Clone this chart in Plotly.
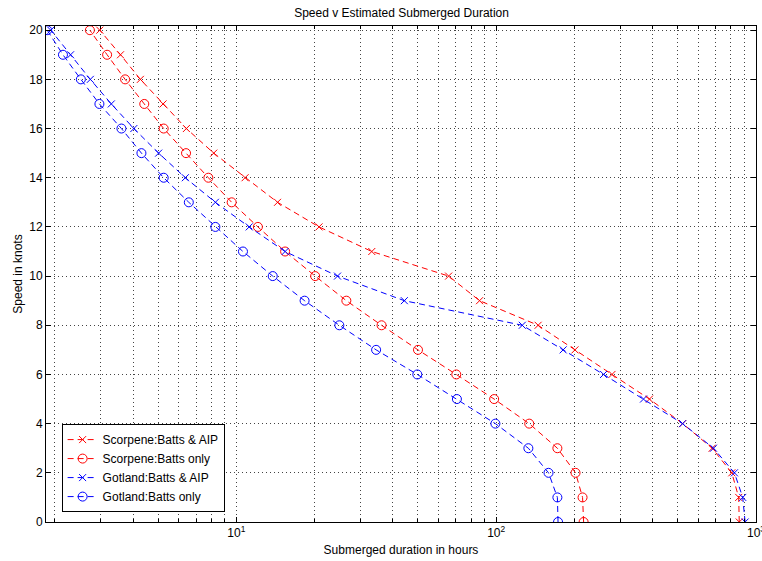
import plotly.graph_objects as go
import math

speed = list(range(0, 21))

scorpene_aip = [862, 858, 807, 678, 522, 389, 279, 201, 145, 86.3, 65.6, 33.2, 20.8,
                14.4, 10.8, 8.18, 6.42, 5.22, 4.27, 3.58, 2.98]
scorpene_batt = [217, 215, 202, 172, 134, 98.2, 70.2, 50.0, 36.2, 26.5, 20.1, 15.4, 12.1,
                 9.59, 7.80, 6.40, 5.25, 4.42, 3.73, 3.18, 2.73]
gotland_aip = [908, 889, 826, 686, 522, 369, 259, 181, 126, 44.3, 24.5, 15.4, 11.2,
               8.30, 6.36, 5.02, 4.03, 3.30, 2.74, 2.30, 1.93]
gotland_batt = [173, 172, 159, 133, 99.3, 70.6, 49.7, 34.5, 24.9, 18.3, 13.8, 10.6, 8.30,
                6.56, 5.25, 4.31, 3.61, 2.97, 2.52, 2.15, 1.87]

series_names = ["Scorpene:Batts & AIP", "Scorpene:Batts only",
                "Gotland:Batts & AIP", "Gotland:Batts only"]

x_tickvals = [10, 100, 1000]
x_ticktext = ["10<sup>1</sup>", "10<sup>2</sup>", "10<sup>3</sup>"]
y_tickvals = list(range(0, 21, 2))

FONT = "Arial, 'Liberation Sans', Helvetica, sans-serif"
DASH = "6px,4px"

fig = go.Figure()
specs = [
    (scorpene_aip, series_names[0], "#ff0000", "x-thin", 7),
    (scorpene_batt, series_names[1], "#ff0000", "circle-open", 9),
    (gotland_aip, series_names[2], "#0000ff", "x-thin", 7),
    (gotland_batt, series_names[3], "#0000ff", "circle-open", 9),
]
for vals, name, col, sym, sz in specs:
    fig.add_trace(go.Scatter(
        x=vals, y=speed, name=name, mode="lines+markers",
        line=dict(color=col, width=1, dash=DASH),
        marker=dict(symbol=sym, size=sz, color=col, line=dict(color=col, width=1)),
    ))

minor_vals = [m * 10 ** d for d in range(0, 3) for m in range(2, 10)]

fig.update_layout(
    width=762, height=561,
    margin=dict(l=46, r=6, t=26, b=39, autoexpand=False),
    paper_bgcolor="white", plot_bgcolor="white",
    font=dict(family=FONT, size=12, color="#000"),
    title=dict(text="Speed v Estimated Submerged Duration", x=0.527, xanchor="center",
               y=0.985, yanchor="top", font=dict(size=12, family=FONT, color="#000")),
    showlegend=True,
    legend=dict(x=0.022, y=0.02, xanchor="left", yanchor="bottom",
                bgcolor="white", bordercolor="#000", borderwidth=1,
                font=dict(size=12, family=FONT, color="#000"),
                tracegroupgap=0, itemwidth=30),
)

fig.update_xaxes(
    type="log", range=[math.log10(1.85), 3.0], automargin=False,
    tickvals=x_tickvals, ticktext=x_ticktext, ticklabeloverflow="allow",
    ticks="inside", ticklen=5, tickcolor="#000",
    showline=True, linecolor="#000", linewidth=1, mirror="allticks",
    showgrid=True, gridcolor="#444", griddash="1px,3px", gridwidth=1,
    minor=dict(tickvals=minor_vals, ticks="inside", ticklen=3, tickcolor="#000",
               showgrid=True, gridcolor="#444", griddash="1px,3px", gridwidth=1),
    zeroline=False,
    title=dict(text="Submerged duration in hours", font=dict(size=12, family=FONT), standoff=6),
    tickfont=dict(size=12, family=FONT, color="#000"),
)
fig.update_yaxes(
    range=[0, 20.17], tickvals=y_tickvals, automargin=False,
    ticks="inside", ticklen=5, tickcolor="#000",
    showline=True, linecolor="#000", linewidth=1, mirror="allticks",
    showgrid=True, gridcolor="#444", griddash="1px,3px", gridwidth=1,
    zeroline=False,
    title=dict(text="Speed in knots", font=dict(size=12, family=FONT), standoff=4),
    tickfont=dict(size=12, family=FONT, color="#000"),
)

fig.write_html("out.html")
